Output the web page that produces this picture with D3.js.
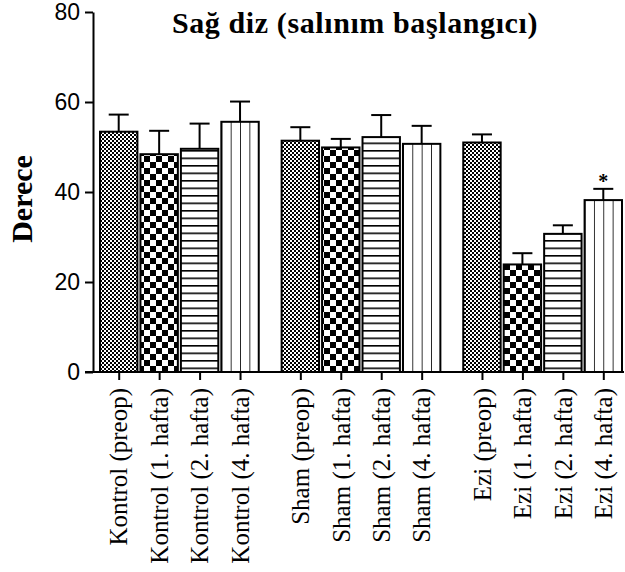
<!DOCTYPE html>
<html>
<head>
<meta charset="utf-8">
<script src="https://cdn.jsdelivr.net/npm/d3@7"></script>
<style>
  body { margin: 0; background: #fff; }
  svg { display: block; }
</style>
</head>
<body>
<div id="chart"></div>
<script>
// values (mean and upper error length)
var groups = ["Kontrol", "Sham", "Ezi"];
var timepoints = ["preop", "1. hafta", "2. hafta", "4. hafta"];
var kontrolMeans = [53.4, 48.4, 49.6, 55.6];
var kontrolErr = [3.8, 5.2, 5.6, 4.5];
var shamMeans = [51.4, 49.9, 52.2, 50.7];
var shamErr = [3.0, 1.9, 4.9, 4.0];
var eziMeans = [51.0, 23.9, 30.7, 38.2];
var eziErr = [1.8, 2.5, 1.9, 2.5];
var yTicks = [0, 20, 40, 60, 80];
var starred = ["Ezi (4. hafta)"];

var width = 625, height = 572;
var svg = d3.select("#chart").append("svg")
    .attr("width", width).attr("height", height);

var means = { Kontrol: kontrolMeans, Sham: shamMeans, Ezi: eziMeans };
var errs = { Kontrol: kontrolErr, Sham: shamErr, Ezi: eziErr };
var patternIds = ["fine", "coarse", "horiz", "vert"];

var data = [];
groups.forEach(function (g) {
    timepoints.forEach(function (t, i) {
        data.push({ group: g, time: t, label: g + " (" + t + ")",
            value: means[g][i], err: errs[g][i], pattern: patternIds[i] });
    });
});

// patterns
var defs = svg.append("defs");
var p1 = defs.append("pattern").attr("id", "fine").attr("patternUnits", "userSpaceOnUse")
    .attr("width", 4).attr("height", 4);
p1.append("rect").attr("width", 4).attr("height", 4).attr("fill", "#fff");
p1.append("rect").attr("width", 2).attr("height", 2).attr("fill", "#000");
p1.append("rect").attr("x", 2).attr("y", 2).attr("width", 2).attr("height", 2).attr("fill", "#000");

var p2 = defs.append("pattern").attr("id", "coarse").attr("patternUnits", "userSpaceOnUse")
    .attr("width", 12).attr("height", 12);
p2.append("rect").attr("width", 12).attr("height", 12).attr("fill", "#fff");
p2.append("rect").attr("width", 6).attr("height", 6).attr("fill", "#000");
p2.append("rect").attr("x", 6).attr("y", 6).attr("width", 6).attr("height", 6).attr("fill", "#000");

var p3 = defs.append("pattern").attr("id", "horiz").attr("patternUnits", "userSpaceOnUse")
    .attr("width", 10).attr("height", 7.5);
p3.append("rect").attr("width", 10).attr("height", 7.5).attr("fill", "#fff");
p3.append("rect").attr("width", 10).attr("height", 1.6).attr("fill", "#000");

var p4 = defs.append("pattern").attr("id", "vert").attr("patternUnits", "objectBoundingBox")
    .attr("width", 0.25).attr("height", 1);
p4.append("rect").attr("width", 20).attr("height", 600).attr("fill", "#fff");
p4.append("rect").attr("x", -0.8).attr("width", 1.6).attr("height", 600).attr("fill", "#000");

// scales
var y = d3.scaleLinear().domain([0, 80]).range([372, 12]);
var xGroup = d3.scaleBand().domain(groups).range([100, 622])
    .paddingInner(0.126).paddingOuter(0);
var xTime = d3.scaleBand().domain(timepoints).range([0, xGroup.bandwidth()])
    .paddingInner(0.075).paddingOuter(0);

function cx(d) { return xGroup(d.group) + xTime(d.time) + xTime.bandwidth() / 2; }

var xTick = d3.scaleOrdinal().domain(data.map(function (d) { return d.label; }))
    .range(data.map(cx));

// bars
svg.append("g").selectAll("rect")
    .data(data).enter().append("rect")
    .attr("x", function (d) { return xGroup(d.group) + xTime(d.time); })
    .attr("y", function (d) { return y(d.value); })
    .attr("width", xTime.bandwidth())
    .attr("height", function (d) { return y(0) - y(d.value); })
    .attr("fill", function (d) { return "url(#" + d.pattern + ")"; })
    .attr("stroke", "#000").attr("stroke-width", 2);

// error bars (upper only)
var eb = svg.append("g").attr("stroke", "#000").attr("stroke-width", 2);
eb.selectAll(".stem").data(data).enter().append("line")
    .attr("x1", cx).attr("x2", cx)
    .attr("y1", function (d) { return y(d.value); })
    .attr("y2", function (d) { return y(d.value + d.err); });
eb.selectAll(".cap").data(data).enter().append("line")
    .attr("x1", function (d) { return cx(d) - 10; })
    .attr("x2", function (d) { return cx(d) + 10; })
    .attr("y1", function (d) { return y(d.value + d.err); })
    .attr("y2", function (d) { return y(d.value + d.err); });

svg.append("g").selectAll("text")
    .data(data.filter(function (d) { return starred.indexOf(d.label) >= 0; }))
    .enter().append("text")
    .attr("x", cx)
    .attr("y", function (d) { return y(d.value + d.err) - 1; })
    .attr("text-anchor", "middle")
    .style("font", "bold 20px 'Liberation Serif', serif")
    .text("*");

// y axis
var yAxis = svg.append("g").attr("transform", "translate(93,0)")
    .call(d3.axisLeft(y).tickValues(yTicks).tickSize(8).tickSizeOuter(0).tickPadding(5));
yAxis.selectAll("path, line").attr("stroke", "#000").attr("stroke-width", 2);
yAxis.selectAll("text").style("font", "23px 'Liberation Sans', Arial, sans-serif").attr("fill", "#000");

// x axis
svg.append("line").attr("x1", 85).attr("x2", 624)
    .attr("y1", y(0)).attr("y2", y(0))
    .attr("stroke", "#000").attr("stroke-width", 2);
var xAxis = svg.append("g").attr("transform", "translate(0," + y(0) + ")")
    .call(d3.axisBottom(xTick).tickSize(8).tickFormat(""));
xAxis.select(".domain").remove();
xAxis.selectAll("line").attr("stroke", "#000").attr("stroke-width", 2);

svg.append("g").selectAll("text")
    .data(data).enter().append("text")
    .attr("transform", function (d) { return "translate(" + cx(d) + ",388) rotate(-90)"; })
    .attr("text-anchor", "end")
    .attr("dy", "0.35em")
    .style("font", "25px 'Liberation Serif', 'Times New Roman', serif")
    .text(function (d) { return d.label; });

// titles
svg.append("text")
    .attr("x", 355).attr("y", 33)
    .attr("text-anchor", "middle")
    .style("font", "bold 30px 'Liberation Serif', 'Times New Roman', serif")
    .style("letter-spacing", "0.6px")
    .text("Sağ diz (salınım başlangıcı)");

svg.append("text")
    .attr("transform", "translate(32,199) rotate(-90)")
    .attr("text-anchor", "middle")
    .style("font", "bold 30px 'Liberation Serif', 'Times New Roman', serif")
    .text("Derece");
</script>
</body>
</html>
